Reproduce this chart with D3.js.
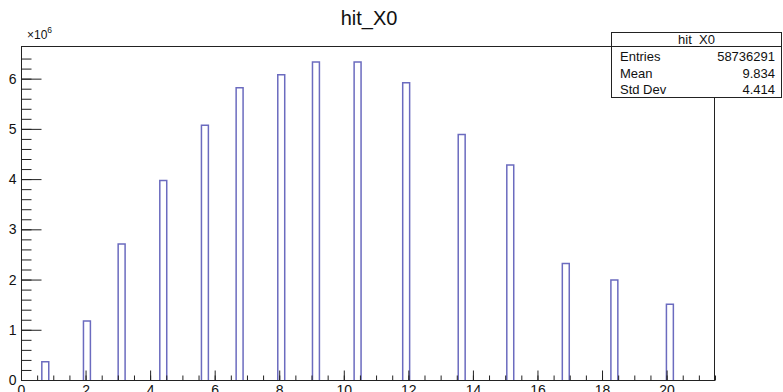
<!DOCTYPE html>
<html><head><meta charset="utf-8">
<script src="https://cdn.jsdelivr.net/npm/d3@7"></script>
<style>
body{margin:0;background:#fff;}
svg text{font-family:"Liberation Sans",Arial,Helvetica,sans-serif;}
</style>
</head><body>
<svg id="c" width="783" height="392"></svg>
<script>
// ---- data ----
const title = "hit_X0";
const binLow = [0.645, 1.935, 3.01, 4.30, 5.59, 6.665, 7.955, 9.03, 10.32, 11.825, 13.545, 15.05, 16.77, 18.275, 19.995];
const binWidth = 0.215;
const counts = [365000, 1175000, 2710000, 3970000, 5070000, 5820000, 6080000, 6330000, 6330000, 5920000, 4890000, 4280000, 2320000, 1990000, 1510000];
const xTickValues = [0, 2, 4, 6, 8, 10, 12, 14, 16, 18, 20];
const yTickValues = [0, 1, 2, 3, 4, 5, 6];
const statsLabels = ["Entries", "Mean", "Std Dev"];
const statsValues = ["58736291", "9.834", "4.414"];
const xDomain = [0, 21.5];
const yDomain = [0, 6.65]; // in units of 1e6

// ---- layout ----
const L = 21, R = 715, T = 46, B = 380;
const svg = d3.select("#c");
const x = d3.scaleLinear().domain(xDomain).range([L, R]);
const y = d3.scaleLinear().domain(yDomain).range([B, T]);
const axisColor = "#222";

// bars (histogram outline)
const lineColor = "#6b6bbf";
svg.append("g").selectAll("path").data(binLow).join("path")
  .attr("d", (d, i) => {
    const x0 = x(d), x1 = x(d + binWidth), yt = y(counts[i] / 1e6), yb = y(0);
    return `M${x0},${yb}V${yt}H${x1}V${yb}`;
  })
  .attr("fill", "none").attr("stroke", lineColor).attr("stroke-width", 1.5);

// frame
svg.append("rect").attr("x", L + 0.5).attr("y", T + 0.5).attr("width", R - L - 1).attr("height", B - T)
  .attr("fill", "none").attr("stroke", axisColor).attr("stroke-width", 1);

// y axis major
const yMajor = d3.axisLeft(y).tickValues(yTickValues).tickSizeInner(-20).tickSizeOuter(0).tickPadding(5).tickFormat(d3.format("d"));
const gy = svg.append("g").attr("transform", `translate(${L + 0.5},0)`).call(yMajor);
gy.select(".domain").remove();
gy.selectAll("line").attr("stroke", axisColor);
gy.selectAll("text").attr("font-size", 14).attr("fill", "#111");
// y axis minor
const yMinorVals = d3.range(0, 66, 2).map(v => v / 10).filter(v => v <= yDomain[1]);
const gym = svg.append("g").attr("transform", `translate(${L + 0.5},0)`)
  .call(d3.axisLeft(y).tickValues(yMinorVals).tickSizeInner(-10).tickSizeOuter(0).tickFormat(""));
gym.select(".domain").remove();
gym.selectAll("line").attr("stroke", axisColor);

// x axis major
const xMajor = d3.axisBottom(x).tickValues(xTickValues).tickSizeInner(-10).tickSizeOuter(0).tickPadding(5).tickFormat(d3.format("d"));
const gx = svg.append("g").attr("transform", `translate(0,${B + 0.5})`).call(xMajor);
gx.select(".domain").remove();
gx.selectAll("line").attr("stroke", axisColor);
gx.selectAll("text").attr("font-size", 14).attr("fill", "#111");
// x axis minor
const xMinorVals = d3.range(0, 44, 1).map(v => v / 2).filter(v => v <= xDomain[1]);
const gxm = svg.append("g").attr("transform", `translate(0,${B + 0.5})`)
  .call(d3.axisBottom(x).tickValues(xMinorVals).tickSizeInner(-5).tickSizeOuter(0).tickFormat(""));
gxm.select(".domain").remove();
gxm.selectAll("line").attr("stroke", axisColor);

// exponent label
const ex = svg.append("text").attr("x", 27).attr("y", 39).attr("font-size", 12).attr("fill", "#111");
ex.append("tspan").text("×10");
ex.append("tspan").attr("font-size", 8.5).attr("dy", -6).text("6");

// title
svg.append("text").attr("x", 369).attr("y", 25).attr("text-anchor", "middle")
  .attr("font-size", 20).attr("fill", "#111").text(title);

// stats box
const sb = {x: 611.5, y: 32.5, w: 170, h: 65};
svg.append("rect").attr("x", sb.x).attr("y", sb.y).attr("width", sb.w).attr("height", sb.h)
  .attr("fill", "#fff").attr("stroke", axisColor).attr("stroke-width", 1);
svg.append("line").attr("x1", sb.x).attr("x2", sb.x + sb.w).attr("y1", 46.5).attr("y2", 46.5)
  .attr("stroke", axisColor);
svg.append("text").attr("x", sb.x + sb.w / 2).attr("y", 44).attr("text-anchor", "middle")
  .attr("font-size", 13).attr("fill", "#111").text(title);
const rowY = [61, 77.5, 94];
svg.append("g").selectAll("text").data(statsLabels).join("text")
  .attr("x", 620).attr("y", (d, i) => rowY[i]).attr("font-size", 13).attr("fill", "#111").text(d => d);
svg.append("g").selectAll("text").data(statsValues).join("text")
  .attr("x", 775).attr("y", (d, i) => rowY[i]).attr("text-anchor", "end").attr("font-size", 13).attr("fill", "#111").text(d => d);
</script>
</body></html>
